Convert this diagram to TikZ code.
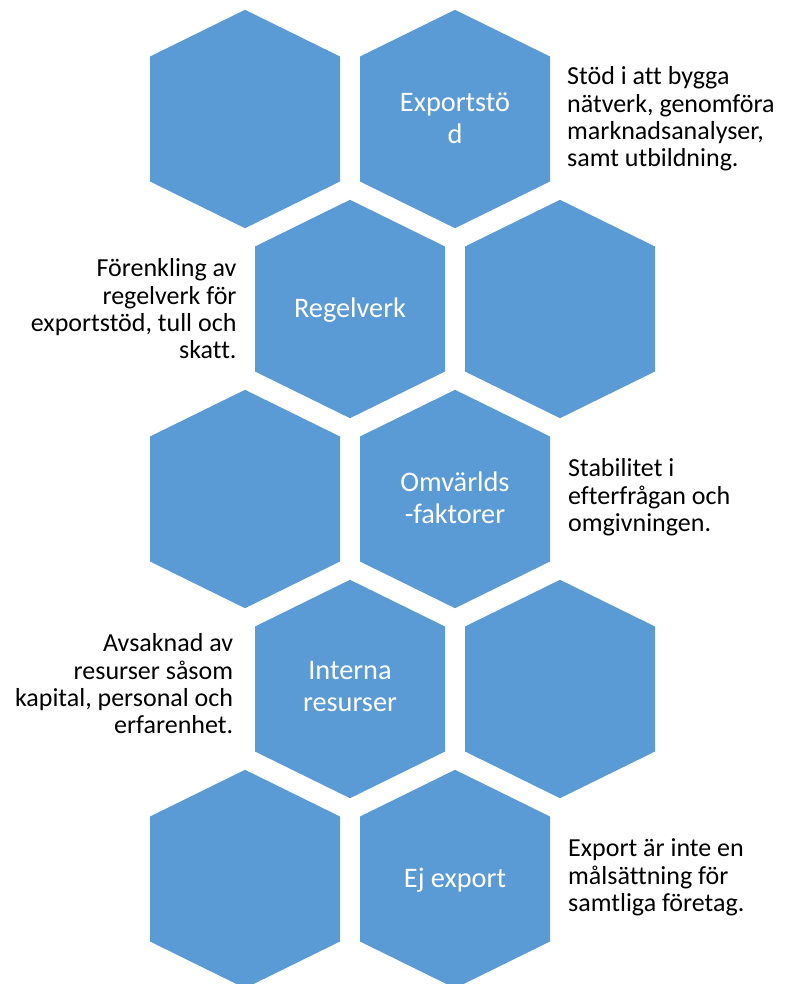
\documentclass[tikz,border=0pt]{standalone}
\usepackage{fontspec}
\setmainfont[Ligatures=NoCommon]{Carlito}
\definecolor{hexblue}{HTML}{5B9BD5}
\begin{document}
\begin{tikzpicture}[x=1pt,y=-1pt,
  hexfill/.style={fill=hexblue,draw=none},
  hextext/.style={text=white,font=\fontsize{28.3}{31.7}\selectfont,align=center,anchor=base,inner sep=0pt},
  sideleft/.style={text=black,font=\fontsize{26}{27.3}\selectfont,align=left,anchor=base west,inner sep=0pt},
  sideright/.style={text=black,font=\fontsize{26}{27.3}\selectfont,align=right,anchor=base east,inner sep=0pt}]
\useasboundingbox (0,0) rectangle (784,984);
\begin{scope}
\clip (0,0) rectangle (784,984);
\foreach \cx/\cy in {245/119,455/119,350/309,560/309,245/499,455/499,350/689,560/689,245/879,455/879}
  \fill[hexfill] (\cx,\cy-109.2) -- (\cx+95,\cy-62.5) -- (\cx+95,\cy+62.5) -- (\cx,\cy+109.2) -- (\cx-95,\cy+62.5) -- (\cx-95,\cy-62.5) -- cycle;
\end{scope}
% multi-line nodes: base anchor is the baseline of the last line
\node[hextext] (exp) at (455,143.3) {Exportstö\\d};
\node[hextext] (reg) at (350,317.3) {Regelverk};
\node[hextext] (omv) at (455,523.3) {Omvärlds\\-faktorer};
\node[hextext] (int) at (350,711) {Interna\\resurser};
\node[hextext] (ej) at (455,887.7) {Ej export};
\node[sideleft] (d1) at (567,166.9) {Stöd i att bygga\\nätverk, genomföra\\marknadsanalyser,\\samt utbildning.};
\node[sideright] (d2) at (236.7,358.6) {Förenkling av\\regelverk för\\exportstöd, tull och\\skatt.};
\node[sideleft] (d3) at (568,531.3) {Stabilitet i\\efterfrågan och\\omgivningen.};
\node[sideright] (d4) at (233.3,733.6) {Avsaknad av\\resurser såsom\\kapital, personal och\\erfarenhet.};
\node[sideleft] (d5) at (568,911.3) {Export är inte en\\målsättning för\\samtliga företag.};
\end{tikzpicture}
\end{document}
